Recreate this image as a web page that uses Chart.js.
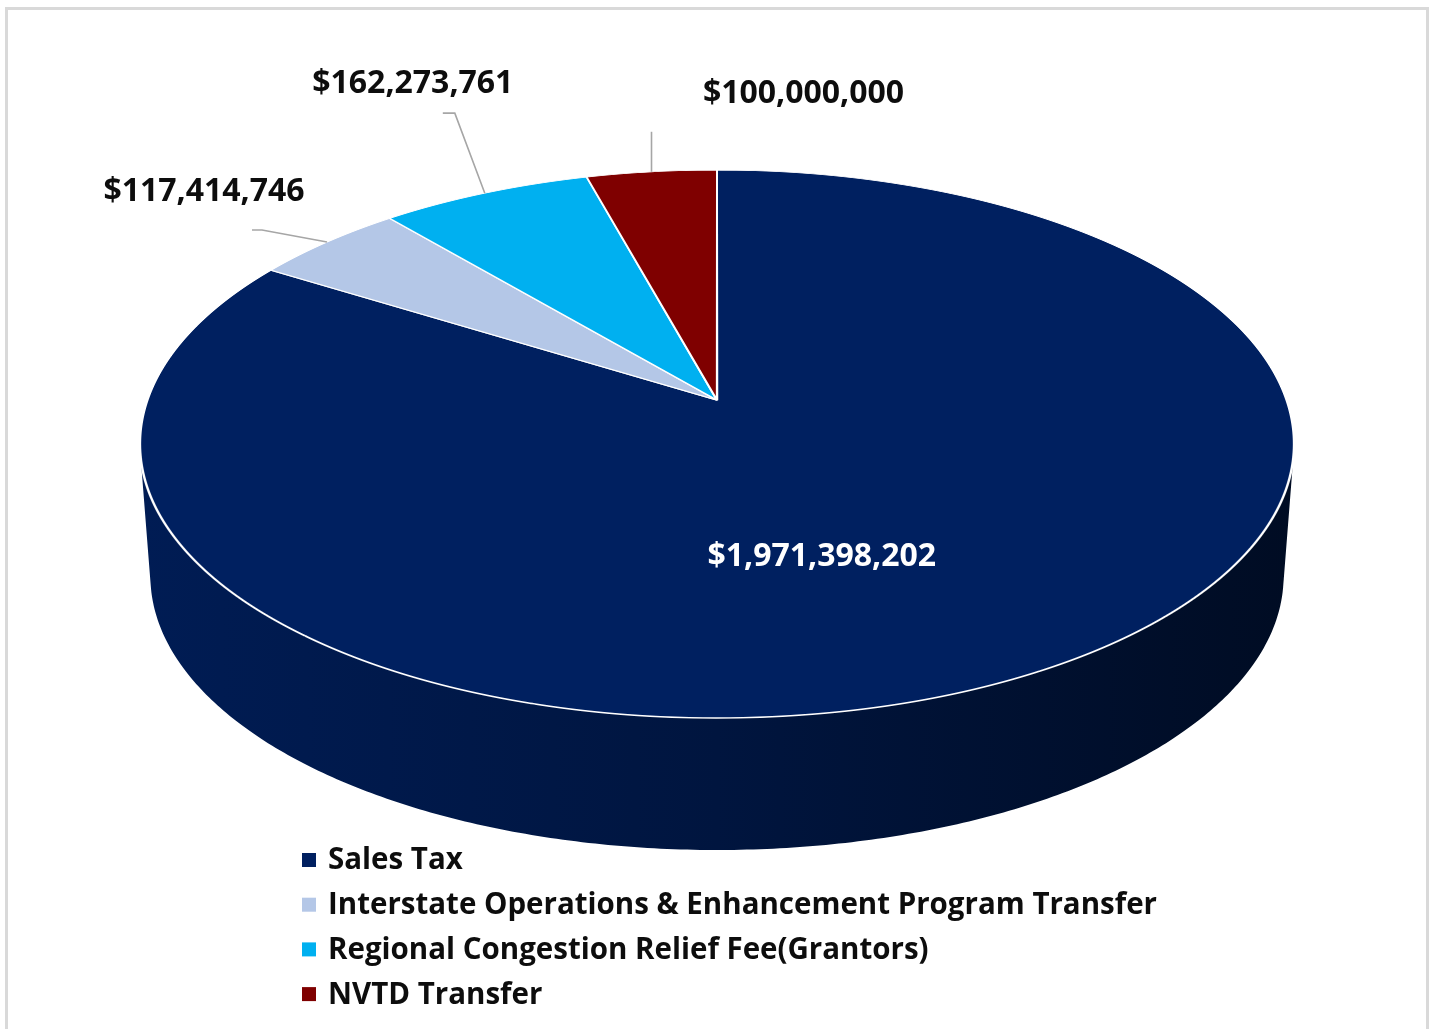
<!DOCTYPE html>
<html>
<head>
<meta charset="utf-8">
<script src="https://cdn.jsdelivr.net/npm/chart.js@4.4.0/dist/chart.umd.min.js"></script>
<style>
html, body { margin: 0; padding: 0; background: #fff; overflow: hidden; }
#frame { position: absolute; left: 5px; top: 7px; width: 1424px; height: 1040px; border: 3px solid #d9d9d9; box-sizing: border-box; }
#wrap { position: absolute; left: 0; top: 0; width: 1433px; height: 1029px; }
</style>
</head>
<body>
<div id="frame"></div>
<div id="wrap"><canvas id="mychart" width="1433" height="1029"></canvas></div>
<script>
// data
const categories = ["Sales Tax", "Interstate Operations & Enhancement Program Transfer", "Regional Congestion Relief Fee(Grantors)", "NVTD Transfer"];
const amounts = [1971398202, 117414746, 162273761, 100000000];
const sliceColors = ["#002060", "#b4c7e7", "#00b0f0", "#7f0000"];

// look of the tilted pie (perspective: part of the face height above the centre, side depth)
const tilt = { persp: 0.42, depth: 132, shrink: 0.982 };
const labelFont = "bold 32px 'Open Sans'";
const legendFont = "bold 29.5px 'Open Sans'";
// where each value label sits, relative to its slice
const labelSpots = [
    { inside: true, r: 0.5, text: [-44, 31] },
    { elbow: [-65, -12], tick: -10, text: [-123, -50] },
    { elbow: [-30, -80], tick: -12, text: [-72, -109] },
    { elbow: [0, -40], tick: 0, text: [152, -78] }
];
const legendBox = { x: 302, y: 860, step: 44.7, size: 14, gap: 12 };

function money(v) {
    return "$" + v.toLocaleString("en-US");
}

function shade(hex, f) {
    let n = parseInt(hex.slice(1), 16);
    let r = Math.round(((n >> 16) & 255) * f);
    let g = Math.round(((n >> 8) & 255) * f);
    let b = Math.round((n & 255) * f);
    return "rgb(" + r + "," + g + "," + b + ")";
}

// point of the rim at angle t (top face, or bottom edge of the side)
function rim(g, t, f, low) {
    const u = Math.cos(t) * f, v = Math.sin(t) * f;
    const w = 1 - g.k * v;
    let X = g.cx + g.a * u / w;
    let Y = g.cy + g.b * v / w;
    if (low) {
        X = g.cx + (X - g.cx) * tilt.shrink;
        Y += tilt.depth;
    }
    return [X, Y];
}

const pie3d = {
    id: "pie3d",
    beforeDatasetsDraw(chart) {
        const ctx = chart.ctx;
        const area = chart.chartArea;
        const meta = chart.getDatasetMeta(0);
        const R = meta.data[0].outerRadius;
        const ox = meta.data[0].x, oy = meta.data[0].y;
        const T = area.height * tilt.persp, B = area.height - T;
        const k = (B - T) / (B + T);
        const g = {
            cx: (area.left + area.right) / 2,
            cy: area.top + T,
            k: k,
            b: T * (1 + k),
            a: (area.width / 2) * Math.sqrt(1 - k * k)
        };
        chart.$geo = g;

        // side wall
        meta.data.forEach((arc, i) => {
            const grad = ctx.createLinearGradient(area.left, 0, area.right, 0);
            grad.addColorStop(0, shade(sliceColors[i], 0.88));
            grad.addColorStop(0.5, shade(sliceColors[i], 0.66));
            grad.addColorStop(1, shade(sliceColors[i], 0.36));
            ctx.beginPath();
            let any = false;
            [0, 2 * Math.PI].forEach(shift => {
                const a = Math.max(arc.startAngle, shift - 0.4);
                const b = Math.min(arc.endAngle, shift + Math.PI + 0.4);
                if (b <= a) return;
                const n = Math.max(2, Math.ceil((b - a) / 0.01));
                for (let j = 0; j < n; j++) {
                    const t0 = a + (b - a) * j / n, t1 = a + (b - a) * (j + 1) / n;
                    let q = [rim(g, t0, 1, false), rim(g, t1, 1, false), rim(g, t1, 1, true), rim(g, t0, 1, true)];
                    let s = 0;
                    for (let m = 0; m < 4; m++) {
                        const p = q[m], r = q[(m + 1) % 4];
                        s += p[0] * r[1] - r[0] * p[1];
                    }
                    if (s < 0) q.reverse();
                    ctx.moveTo(q[0][0], q[0][1]);
                    for (let m = 1; m < 4; m++) ctx.lineTo(q[m][0], q[m][1]);
                    ctx.closePath();
                    any = true;
                }
            });
            if (any) {
                ctx.fillStyle = grad;
                ctx.fill("nonzero");
            }
        });

        // top face, one pixel row at a time with the local perspective scale
        for (let y0 = Math.floor(area.top) - 3; y0 < Math.ceil(area.bottom) + 3; y0++) {
            const ym = y0 + 0.5;
            const vm = (ym - g.cy) / (g.b + k * (ym - g.cy));
            const wm = 1 - k * vm;
            const sx = g.a / (wm * R);
            const sy = g.b / (wm * wm * R);
            ctx.save();
            ctx.beginPath();
            ctx.rect(0, y0, chart.width, 1);
            ctx.clip();
            ctx.transform(sx, 0, 0, sy, g.cx - sx * ox, ym - sy * (oy + vm * R));
            meta.controller.draw();
            ctx.restore();
        }
        return false;
    },
    afterDraw(chart) {
        const ctx = chart.ctx;
        const g = chart.$geo;
        const meta = chart.getDatasetMeta(0);
        ctx.save();
        ctx.font = labelFont;
        ctx.textAlign = "center";
        ctx.textBaseline = "middle";
        meta.data.forEach((arc, i) => {
            const spot = labelSpots[i];
            const m = (arc.startAngle + arc.endAngle) / 2;
            const [ax, ay] = rim(g, m, spot.inside ? spot.r : 1, false);
            if (spot.inside) {
                ctx.fillStyle = "#ffffff";
            } else {
                const ex = ax + spot.elbow[0], ey = ay + spot.elbow[1];
                ctx.strokeStyle = "#a6a6a6";
                ctx.lineWidth = 1.6;
                ctx.beginPath();
                ctx.moveTo(ax, ay);
                ctx.lineTo(ex, ey);
                ctx.lineTo(ex + spot.tick, ey);
                ctx.stroke();
                ctx.fillStyle = "#0d0d0d";
            }
            ctx.fillText(money(amounts[i]), ax + spot.text[0], ay + spot.text[1]);
        });

        // legend
        ctx.font = legendFont;
        ctx.textAlign = "left";
        categories.forEach((name, i) => {
            const y = legendBox.y + i * legendBox.step;
            ctx.fillStyle = sliceColors[i];
            ctx.fillRect(legendBox.x, y - legendBox.size / 2, legendBox.size, legendBox.size);
            ctx.fillStyle = "#0d0d0d";
            ctx.fillText(name, legendBox.x + legendBox.size + legendBox.gap, y + 1);
        });
        ctx.restore();
    }
};

function plot() {
    new Chart("mychart", {
        type: "pie",
        data: {
            labels: categories,
            datasets: [{
                data: amounts,
                backgroundColor: sliceColors,
                borderColor: "#ffffff",
                borderWidth: 1.1
            }]
        },
        options: {
            responsive: false,
            devicePixelRatio: 1,
            animation: false,
            events: [],
            layout: { padding: { left: 140, right: 139, top: 170, bottom: 311 } },
            plugins: {
                legend: { display: false },
                tooltip: { enabled: false }
            }
        },
        plugins: [pie3d]
    });
}

if (document.fonts && document.fonts.load) {
    Promise.all([document.fonts.load(labelFont), document.fonts.load(legendFont)]).then(plot, plot);
} else {
    plot();
}
</script>
</body>
</html>
